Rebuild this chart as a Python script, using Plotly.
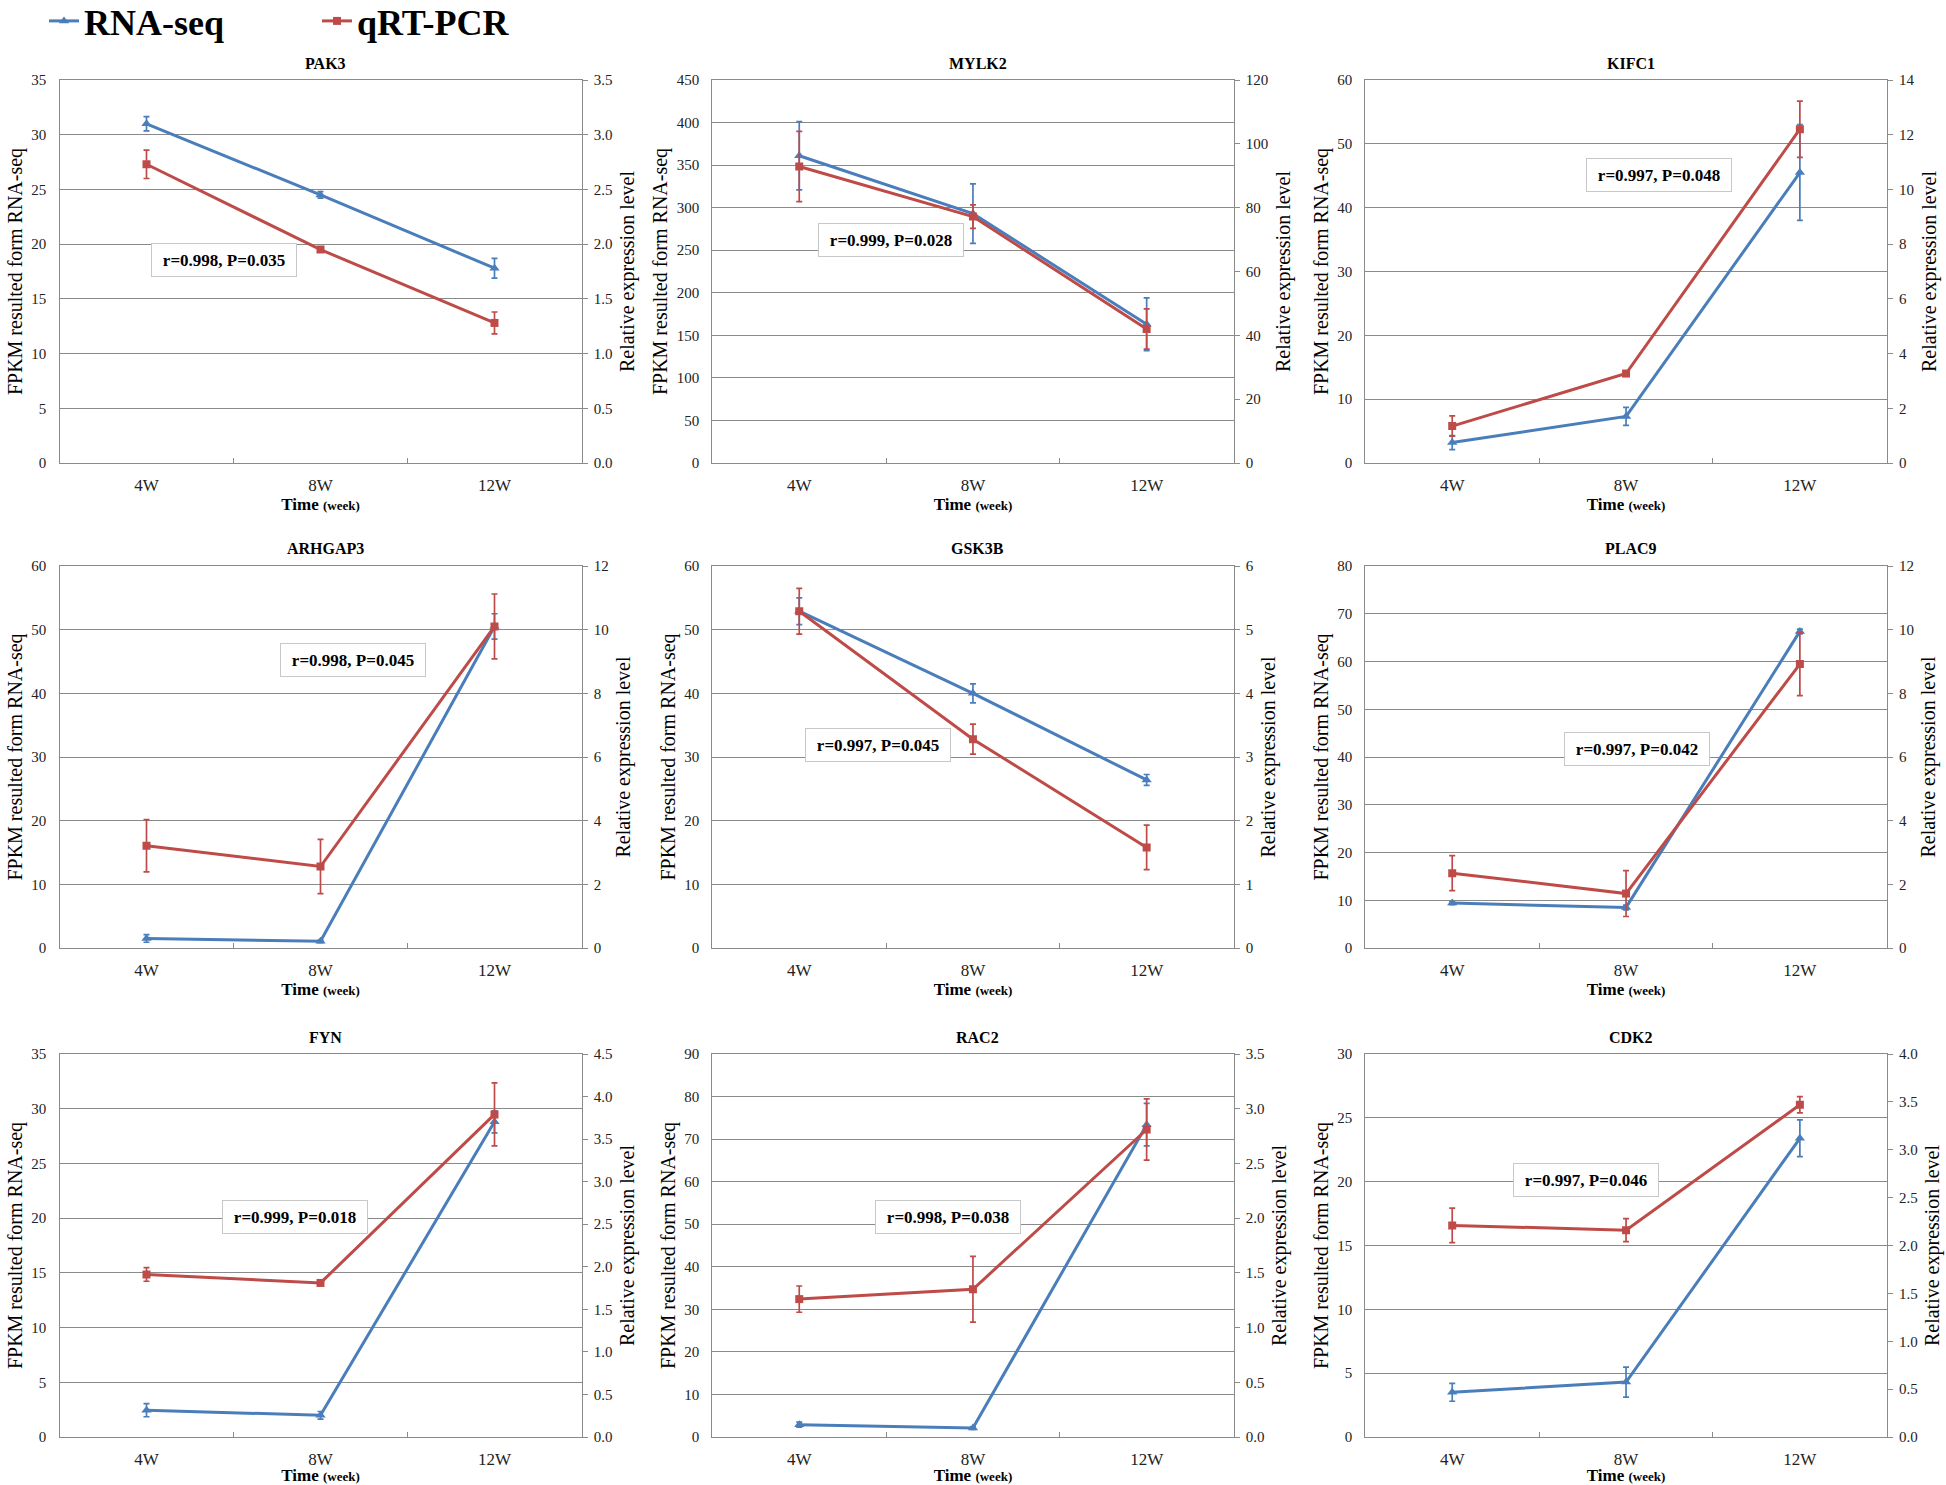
import plotly.graph_objects as go

# ---------------- data ----------------
genes = ["PAK3", "MYLK2", "KIFC1", "ARHGAP3", "GSK3B", "PLAC9", "FYN", "RAC2", "CDK2"]
time_labels = ["4W", "8W", "12W"]

rnaseq_fpkm = [
    [31.0, 24.5, 17.8],
    [361, 293, 163],
    [3.2, 7.3, 45.5],
    [1.5, 1.05, 50.5],
    [52.9, 40.0, 26.4],
    [9.4, 8.5, 66.3],
    [2.45, 1.98, 28.8],
    [2.9, 2.1, 73.4],
    [3.5, 4.3, 23.4],
]
rnaseq_err = [
    [0.65, 0.3, 0.9],
    [40, 35, 31],
    [1.1, 1.4, 7.5],
    [0.6, 0.2, 2.0],
    [2.1, 1.5, 0.85],
    [0.3, 0.5, 0.5],
    [0.6, 0.35, 1.0],
    [0.6, 0.3, 5.0],
    [0.7, 1.17, 1.44],
]
qpcr_rel = [
    [2.73, 1.95, 1.28],
    [92.9, 77.2, 42.0],
    [1.35, 3.27, 12.2],
    [3.21, 2.56, 10.1],
    [5.29, 3.28, 1.58],
    [2.35, 1.71, 8.92],
    [1.91, 1.81, 3.79],
    [1.26, 1.35, 2.81],
    [2.21, 2.16, 3.47],
]
qpcr_err = [
    [0.13, 0.02, 0.1],
    [11, 3.7, 6.3],
    [0.37, 0.05, 1.03],
    [0.82, 0.85, 1.02],
    [0.36, 0.235, 0.35],
    [0.55, 0.72, 0.99],
    [0.08, 0.02, 0.37],
    [0.12, 0.3, 0.28],
    [0.18, 0.12, 0.085],
]
left_max = [35, 450, 60, 60, 60, 80, 35, 90, 30]
left_dtick = [5, 50, 10, 10, 10, 10, 5, 10, 5]
right_max = [3.5, 120, 14, 12, 6, 12, 4.5, 3.5, 4.0]
right_dtick = [0.5, 20, 2, 2, 1, 2, 0.5, 0.5, 0.5]
right_fmt = [".1f", "d", "d", "d", "d", "d", ".1f", ".1f", ".1f"]
stats_text = [
    "r=0.998, P=0.035",
    "r=0.999, P=0.028",
    "r=0.997, P=0.048",
    "r=0.998, P=0.045",
    "r=0.997, P=0.045",
    "r=0.997, P=0.042",
    "r=0.999, P=0.018",
    "r=0.998, P=0.038",
    "r=0.997, P=0.046",
]

# ---------------- layout geometry (pixels) ----------------
W, H = 1946, 1485
col_px = [(59.5, 581.5), (712.4, 1233.5), (1365.3, 1886.8)]
row_px = [(80.0, 463.0), (566.0, 948.0), (1054.0, 1437.0)]
stat_box_px = [(224, 259.5), (890.5, 240), (1659, 175),
               (353, 660.5), (878, 744.5), (1636.5, 748.5),
               (295, 1216.5), (948, 1217), (1586, 1179.5)]

FONT = "Liberation Serif"
BLUE = "#4a7ebb"
RED = "#be4b48"
GRID = "#8a8a8a"

fig = go.Figure()
layout = dict(
    width=W, height=H,
    margin=dict(l=0, r=0, t=0, b=0, autoexpand=False),
    paper_bgcolor="white", plot_bgcolor="white",
    font=dict(family=FONT, color="#222222"),
    showlegend=True,
    legend=dict(orientation="h", x=44 / W, y=1 + 9 / H, xanchor="left", yanchor="top",
                font=dict(family=FONT, size=36, color="black", weight="bold"),
                entrywidth=228, bgcolor="rgba(0,0,0,0)", tracegroupgap=0),
)
annotations = []

left_title = "FPKM resulted form RNA-seq"
right_title = "Relative expression level"

for i, gene in enumerate(genes):
    r, c = divmod(i, 3)
    x0, x1 = col_px[c]
    y0, y1 = row_px[r]
    xd = [x0 / W, x1 / W]
    yd = [1 - y1 / H, 1 - y0 / H]
    n = i + 1
    xa = "x" if n == 1 else f"x{n}"
    ya = "y" if n == 1 else f"y{n}"
    yr = f"y{n + 9}"

    fig.add_trace(go.Scatter(
        x=time_labels, y=rnaseq_fpkm[i], xaxis=xa, yaxis=ya,
        name="RNA-seq", legendgroup="rna", showlegend=(i == 0),
        mode="lines+markers",
        line=dict(color=BLUE, width=3),
        marker=dict(symbol="triangle-up", size=9, color=BLUE),
        error_y=dict(type="data", array=rnaseq_err[i], color=BLUE, thickness=1.7, width=3),
    ))
    fig.add_trace(go.Scatter(
        x=time_labels, y=qpcr_rel[i], xaxis=xa, yaxis=yr,
        name="qRT-PCR", legendgroup="pcr", showlegend=(i == 0),
        mode="lines+markers",
        line=dict(color=RED, width=3),
        marker=dict(symbol="square", size=8, color=RED),
        error_y=dict(type="data", array=qpcr_err[i], color=RED, thickness=1.7, width=3),
    ))

    layout[f"xaxis{'' if n == 1 else n}"] = dict(
        domain=xd, anchor=ya, type="category", categoryorder="array",
        categoryarray=time_labels, range=[-0.5, 2.5], automargin=False,
        showline=True, linecolor=GRID, linewidth=1.3, mirror=True,
        ticks="inside", tickson="boundaries", ticklen=5, tickcolor=GRID, tickwidth=1,
        ticklabelstandoff=6,
        showgrid=False, zeroline=False,
        tickfont=dict(family=FONT, size=17, color="#222222"),
        title=dict(text="<b>Time <span style='font-size:13px'>(week)</span></b>",
                   font=dict(family=FONT, size=17, color="black"), standoff=0),
    )
    layout[f"yaxis{'' if n == 1 else n}"] = dict(
        domain=yd, anchor=xa, range=[0, left_max[i]], dtick=left_dtick[i], tick0=0,
        automargin=False,
        showline=True, linecolor=GRID, linewidth=1.3,
        ticks="", ticklabelstandoff=9,
        showgrid=True, gridcolor=GRID, gridwidth=1.3, zeroline=False,
        tickfont=dict(family=FONT, size=15, color="#222222"),
        title=dict(text=left_title, font=dict(family=FONT, size=20, color="black"), standoff=3),
    )
    layout[f"yaxis{n + 9}"] = dict(
        domain=yd, anchor=xa, overlaying=ya, side="right", automargin=False,
        range=[0, right_max[i]], dtick=right_dtick[i], tick0=0, tickformat=right_fmt[i],
        showline=True, linecolor=GRID, linewidth=1.3,
        ticks="outside", ticklen=5, tickcolor=GRID, tickwidth=1, ticklabelstandoff=3,
        showgrid=False, zeroline=False,
        tickfont=dict(family=FONT, size=15, color="#222222"),
        title=dict(text=right_title, font=dict(family=FONT, size=20, color="black"), standoff=8),
    )

    # gene title
    annotations.append(dict(
        x=((x0 + x1) / 2 + 5) / W, y=1 - (y0 - 17) / H, xref="paper", yref="paper",
        text=f"<b>{gene}</b>", showarrow=False, xanchor="center", yanchor="middle",
        font=dict(family=FONT, size=16, color="black"),
    ))
    # correlation box
    cx, cy = stat_box_px[i]
    annotations.append(dict(
        x=cx / W, y=1 - cy / H, xref="paper", yref="paper",
        text=f"<b>{stats_text[i]}</b>", showarrow=False, xanchor="center", yanchor="middle",
        font=dict(family=FONT, size=17, color="black"),
        bgcolor="white", bordercolor="#c8c8c8", borderwidth=1, borderpad=3,
        width=138, height=26,
    ))

layout["annotations"] = annotations
fig.update_layout(**layout)
fig.write_html("out.html", config={"displayModeBar": False},
               post_script="document.body.style.margin='0px';")
